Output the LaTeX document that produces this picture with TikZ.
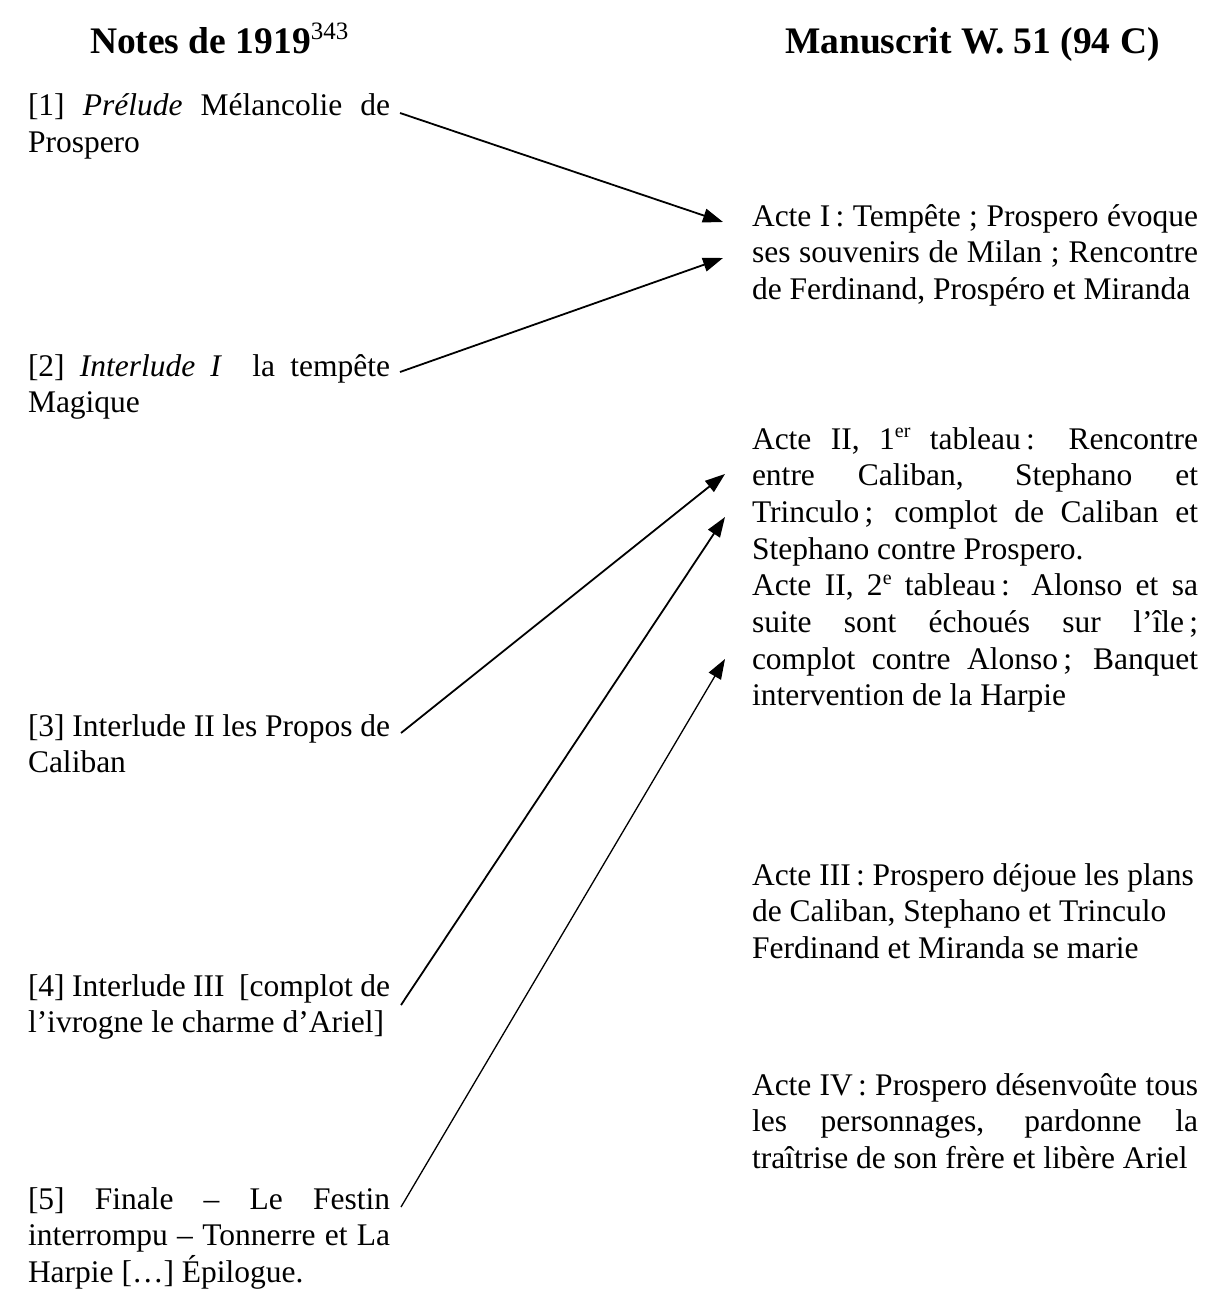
\documentclass[tikz,border=0pt]{standalone}
\usepackage{fontspec}
\setmainfont{Liberation Serif}
\usetikzlibrary{arrows.meta}
\newlength{\lcolw}\setlength{\lcolw}{362pt}
\newlength{\rcolw}\setlength{\rcolw}{446pt}
\newcommand{\jl}[2]{\hbox{\makebox[#1][s]{#2}}}
\newcommand{\pl}[1]{\hbox{#1}}
\newcommand{\para}[1]{\vtop{\baselineskip=36.7pt\lineskiplimit=-100pt\lineskip=0pt #1}}
\newcommand{\sps}[1]{\raisebox{0.36em}{\fontsize{20}{20}\selectfont #1}}
\newcommand{\hsps}[1]{\raisebox{0.38em}{\fontsize{25}{25}\selectfont\mdseries #1}}
\tikzset{
  txt/.style={anchor=base west, inner sep=0pt, outer sep=0pt, font=\fontsize{31.5}{36.7}\selectfont},
  hdr/.style={anchor=base west, inner sep=0pt, outer sep=0pt, font=\fontsize{37.5}{42}\selectfont\bfseries},
  arr/.style={-{Triangle[length=20pt,width=14pt]}, line width=1.8pt},
  arrthin/.style={-{Triangle[length=20pt,width=14pt]}, line width=1.3pt}
}
\begin{document}
\begin{tikzpicture}[x=1pt,y=-1pt]
\useasboundingbox (0,0) rectangle (1226,1289);
% headers
\node[hdr] (h1) at (90,54) {Notes de 1919\hsps{343}};
\node[hdr] (h2) at (785,54) {Manuscrit W. 51 (94 C)};
% left column
\node[txt] (l1) at (28,116) {\para{\jl{\lcolw}{[1] \textit{Prélude} Mélancolie de}\pl{Prospero}}};
\node[txt] (l2) at (28,376) {\para{\jl{\lcolw}{[2] \textit{Interlude I}\ \ la tempête}\pl{Magique}}};
\node[txt] (l3) at (28,736) {\para{\jl{\lcolw}{[3] Interlude II les Propos de}\pl{Caliban}}};
\node[txt] (l4) at (28,996) {\para{\jl{\lcolw}{[4] Interlude III\ \ [complot de}\pl{l’ivrogne le charme d’Ariel]}}};
\node[txt] (l5) at (28,1209) {\para{\jl{\lcolw}{[5] Finale – Le Festin}\jl{\lcolw}{interrompu – Tonnerre et La}\pl{Harpie […] Épilogue.}}};
% right column
\node[txt] (r1) at (752,226) {\para{\jl{\rcolw}{Acte I\,: Tempête ; Prospero évoque}\jl{\rcolw}{ses souvenirs de Milan ; Rencontre}\pl{de Ferdinand, Prospéro et Miranda}}};
\node[txt] (r2) at (752,449) {\para{\jl{\rcolw}{Acte II, 1\sps{er} tableau\,: Rencontre}\jl{\rcolw}{entre Caliban, Stephano et}\jl{\rcolw}{Trinculo\,; complot de Caliban et}\pl{Stephano contre Prospero.}\jl{\rcolw}{Acte II, 2\sps{e} tableau\,: Alonso et sa}\jl{\rcolw}{suite sont échoués sur l’île\,;}\jl{\rcolw}{complot contre Alonso\,; Banquet}\pl{intervention de la Harpie}}};
\node[txt] (r3) at (752,885) {\para{\pl{Acte III\,: Prospero déjoue les plans}\pl{de Caliban, Stephano et Trinculo}\pl{Ferdinand et Miranda se marie}}};
\node[txt] (r4) at (752,1095) {\para{\jl{\rcolw}{Acte IV\,: Prospero désenvoûte tous}\jl{\rcolw}{les personnages, pardonne la}\pl{traîtrise de son frère et libère Ariel}}};
% arrow ends
\coordinate (s1) at (400,113); \coordinate (e1) at (723,222);
\coordinate (s2) at (400,372); \coordinate (e2) at (723,258);
\coordinate (s3) at (401,733); \coordinate (e3) at (725,474);
\coordinate (s4) at (401,1005); \coordinate (e4) at (725,517);
\coordinate (s5) at (401,1207); \coordinate (e5) at (725,659);
\draw[arr] (s1) -- (e1);
\draw[arr] (s2) -- (e2);
\draw[arr] (s3) -- (e3);
\draw[arr] (s4) -- (e4);
\draw[arrthin] (s5) -- (e5);
\end{tikzpicture}
\end{document}
